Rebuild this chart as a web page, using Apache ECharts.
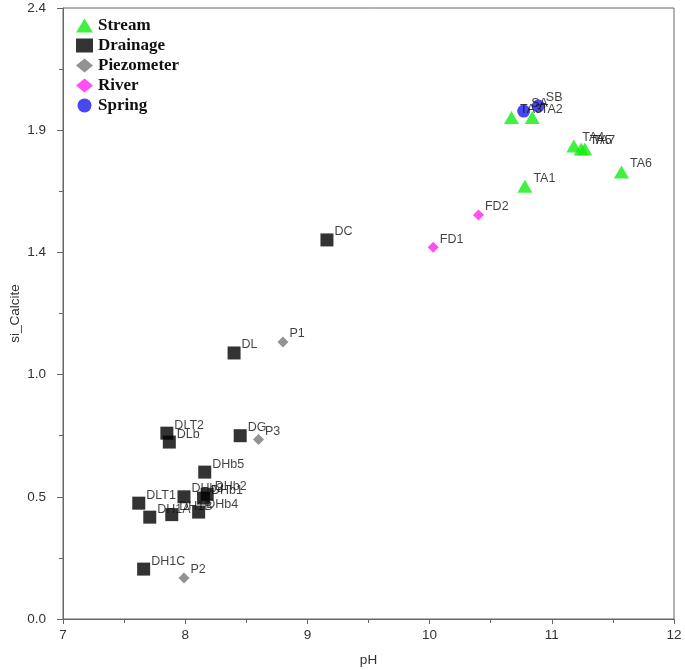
<!DOCTYPE html>
<html>
<head>
<meta charset="utf-8">
<script src="https://cdn.jsdelivr.net/npm/echarts@6/dist/echarts.min.js"></script>
<style>html,body{margin:0;padding:0;background:#fff}#c{width:685px;height:670px}</style>
</head>
<body>
<div id="c"></div>
<script>
// Data
const streamNames = ['TA3','TA2','TA4','TA5','TA7','TA6','TA1'];
const streamPH    = [10.67,10.84,11.18,11.24,11.27,11.57,10.78];
const streamSI    = [1.97,1.97,1.858,1.846,1.846,1.756,1.70];

const drainNames = ['DC','DL','DLT2','DLb','DG','DHb5','DLT1','DH1A','DH1B','DHb3','DHb4','DHb1','DHb2','DH1C'];
const drainPH    = [9.16,8.40,7.85,7.87,8.45,8.16,7.62,7.71,7.89,7.99,8.11,8.15,8.18,7.66];
const drainSI    = [1.489,1.045,0.73,0.695,0.72,0.577,0.455,0.40,0.41,0.48,0.42,0.475,0.49,0.196];

const piezoNames = ['P1','P3','P2'];
const piezoPH    = [8.80,8.60,7.99];
const piezoSI    = [1.088,0.705,0.161];

const riverNames = ['FD1','FD2'];
const riverPH    = [10.03,10.40];
const riverSI    = [1.46,1.587];

const springNames = ['SA','SB'];
const springPH    = [10.77,10.89];
const springSI    = [1.995,2.015];

const yTicks = [0, 0.48, 0.96, 1.44, 1.92, 2.4];

function pts(n, x, y){ return n.map((name,i)=>({name:name, value:[x[i], y[i]]})); }

const lbl = {
  show:true, formatter:'{b}', position:'right', distance:1, offset:[0,-8],
  color:'#111', fontFamily:'Liberation Sans, Arial', fontSize:12.5
};

const chart = echarts.init(document.getElementById('c'));
chart.setOption({
  animation:false,
  backgroundColor:'#fff',
  grid:{left:63, right:11, top:8, bottom:51, containLabel:false, outerBoundsMode:'none',
        show:true, borderColor:'#666', borderWidth:1},
  legend:{
    orient:'vertical', left:71, top:12, itemGap:3, itemWidth:17, itemHeight:14,
    textStyle:{fontFamily:'Liberation Serif, Times New Roman', fontWeight:'bold', fontSize:17, color:'#111'},
    data:['Stream','Drainage','Piezometer','River','Spring']
  },
  xAxis:{
    type:'value', min:7, max:12, interval:1, name:'pH', nameLocation:'middle', nameGap:34,
    nameMoveOverlap:false,
    nameTextStyle:{fontFamily:'Liberation Sans, Arial', fontSize:13.5, color:'#333'},
    axisLine:{lineStyle:{color:'#666'}},
    axisTick:{show:true, length:5, lineStyle:{color:'#666'}},
    minorTick:{show:true, splitNumber:2, length:4, lineStyle:{color:'#666'}},
    axisLabel:{fontFamily:'Liberation Sans, Arial', fontSize:13.5, color:'#333', margin:9},
    splitLine:{show:false}
  },
  yAxis:{
    type:'value', min:0, max:2.4, interval:0.48, name:'si_Calcite', nameLocation:'middle', nameGap:41,
    nameMoveOverlap:false,
    nameTextStyle:{fontFamily:'Liberation Sans, Arial', fontSize:13.5, color:'#333'},
    axisLine:{show:true, lineStyle:{color:'#666'}},
    axisTick:{show:true, length:6, lineStyle:{color:'#666'}},
    minorTick:{show:true, splitNumber:2, length:4, lineStyle:{color:'#666'}},
    axisLabel:{fontFamily:'Liberation Sans, Arial', fontSize:13.5, color:'#333', margin:17,
      formatter:v=>v.toFixed(1)},
    splitLine:{show:false}
  },
  series:[
    {name:'Stream', type:'scatter', symbol:'triangle', symbolSize:[15,13],
     itemStyle:{color:'#11ee11'}, label:lbl, data:pts(streamNames,streamPH,streamSI)},
    {name:'Drainage', type:'scatter', symbol:'rect', symbolSize:13,
     itemStyle:{color:'#000'}, label:lbl, data:pts(drainNames,drainPH,drainSI)},
    {name:'Piezometer', type:'scatter', symbol:'diamond', symbolSize:11,
     itemStyle:{color:'#777'}, label:lbl, data:pts(piezoNames,piezoPH,piezoSI)},
    {name:'River', type:'scatter', symbol:'diamond', symbolSize:11,
     itemStyle:{color:'#ff22ee'}, label:lbl, data:pts(riverNames,riverPH,riverSI)},
    {name:'Spring', type:'scatter', symbol:'circle', symbolSize:13,
     itemStyle:{color:'#1a1aee'}, label:lbl, data:pts(springNames,springPH,springSI)}
  ]
});
</script>
</body>
</html>
